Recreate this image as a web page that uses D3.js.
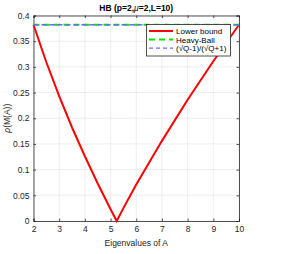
<!DOCTYPE html>
<html>
<head>
<meta charset="utf-8">
<script src="https://cdn.jsdelivr.net/npm/d3@7"></script>
<style>
  body { margin: 0; background: #fff; }
  text { font-family: "Liberation Sans", Arial, sans-serif; }
</style>
</head>
<body>
<div id="chart"></div>
<script>
// values
var eigenvalues = [2, 2.5, 3, 3.5, 4, 4.5, 5, 5.24, 5.5, 6, 7, 8, 9, 10];
var lowerBound = [0.382, 0.309, 0.243, 0.182, 0.126, 0.073, 0.023, 0, 0.025, 0.071, 0.156, 0.236, 0.311, 0.382];
var heavyBall = [0.382, 0.382];
var qRate = [0.382, 0.382];
var rateRange = [2, 10];
var xTicks = [2, 3, 4, 5, 6, 7, 8, 9, 10];
var yTicks = [0, 0.05, 0.1, 0.15, 0.2, 0.25, 0.3, 0.35, 0.4];
var legendLabels = ["Lower bound", "Heavy-Ball", "(\u221AQ-1)/(\u221AQ+1)"];

var W = 303, H = 254;
var margin = {left: 33.5, right: 64, top: 15.5, bottom: 33};
var w = W - margin.left - margin.right, h = H - margin.top - margin.bottom;

var svg = d3.select("#chart").append("svg")
    .attr("width", W).attr("height", H);

var x = d3.scaleLinear().domain([2, 10]).range([0, w]);
var y = d3.scaleLinear().domain([0, 0.4]).range([h, 0]);

var g = svg.append("g").attr("transform", "translate(" + margin.left + "," + margin.top + ")");

// grid
g.selectAll(".gx").data(xTicks).enter().append("line")
    .attr("x1", d => x(d)).attr("x2", d => x(d))
    .attr("y1", 0).attr("y2", h)
    .attr("stroke", "#e6e6e6").attr("stroke-width", 0.7);
g.selectAll(".gy").data(yTicks).enter().append("line")
    .attr("x1", 0).attr("x2", w)
    .attr("y1", d => y(d)).attr("y2", d => y(d))
    .attr("stroke", "#e6e6e6").attr("stroke-width", 0.7);

// axes
var xAxis = g.append("g").attr("transform", "translate(0," + h + ")")
    .call(d3.axisBottom(x).tickValues(xTicks).tickSize(-2.5).tickPadding(5).tickFormat(d3.format("d")));
var yAxis = g.append("g")
    .call(d3.axisLeft(y).tickValues(yTicks).tickSize(-2.5).tickPadding(4).tickFormat(d => d === 0 ? "0" : d3.format("")(d)));
g.append("g").attr("transform", "translate(0,0)")
    .call(d3.axisTop(x).tickValues(xTicks).tickSize(-2.5).tickFormat(""));
g.append("g").attr("transform", "translate(" + w + ",0)")
    .call(d3.axisRight(y).tickValues(yTicks).tickSize(-2.5).tickFormat(""));
g.selectAll(".domain").attr("stroke", "#262626").attr("stroke-width", 0.8);
g.selectAll(".tick line").attr("stroke", "#262626").attr("stroke-width", 0.8);
g.selectAll(".tick text").attr("fill", "#262626").style("font-size", "8.5px");

// lines
var line = d3.line().x((d, i) => x(d[0])).y(d => y(d[1]));
g.append("path")
    .datum(eigenvalues.map((e, i) => [e, lowerBound[i]]))
    .attr("d", line).attr("fill", "none")
    .attr("stroke", "#ff0000").attr("stroke-width", 2);
g.append("path")
    .datum(rateRange.map((e, i) => [e, heavyBall[i]]))
    .attr("d", line).attr("fill", "none")
    .attr("stroke", "#00e600").attr("stroke-width", 2).attr("stroke-dasharray", "6,4");
g.append("path")
    .datum(rateRange.map((e, i) => [e, qRate[i]]))
    .attr("d", line).attr("fill", "none")
    .attr("stroke", "#6b6bff").attr("stroke-width", 1.3).attr("stroke-dasharray", "5,3");

// legend
var lg = svg.append("g").attr("transform", "translate(146.5,24.5)");
lg.append("rect").attr("width", 84).attr("height", 31.5)
    .attr("fill", "#fff").attr("stroke", "#262626").attr("stroke-width", 0.8);
var styles = [
    {c: "#ff0000", sw: 2, da: null},
    {c: "#00e600", sw: 2, da: "6,4"},
    {c: "#6b6bff", sw: 1.3, da: "4,3"}
];
legendLabels.forEach(function (lab, i) {
    var yy = 6.5 + i * 8.6;
    lg.append("line").attr("x1", 2.5).attr("x2", 26.5).attr("y1", yy).attr("y2", yy)
        .attr("stroke", styles[i].c).attr("stroke-width", styles[i].sw)
        .attr("stroke-dasharray", styles[i].da);
    lg.append("text").attr("x", 29.5).attr("y", yy + 3).text(lab)
        .style("font-size", "8px").attr("fill", "#000");
});

// title and labels
var title = svg.append("text").attr("x", margin.left + w / 2).attr("y", 11)
    .attr("text-anchor", "middle").style("font-size", "8.5px").style("font-weight", "bold")
    .attr("fill", "#000");
title.append("tspan").text("HB (p=2,");
title.append("tspan").text("\u03BC").style("font-style", "italic").style("font-weight", "normal");
title.append("tspan").text("=2,L=10)");

svg.append("text").attr("x", margin.left + w / 2).attr("y", 246)
    .attr("text-anchor", "middle").style("font-size", "8.5px").attr("fill", "#262626")
    .text("Eigenvalues of A");

var yl = svg.append("text").attr("transform", "translate(10," + (margin.top + h / 2) + ") rotate(-90)")
    .attr("text-anchor", "middle").style("font-size", "8.5px").attr("fill", "#262626");
yl.append("tspan").text("\u03C1").style("font-style", "italic");
yl.append("tspan").text("(M(A))");
</script>
</body>
</html>
